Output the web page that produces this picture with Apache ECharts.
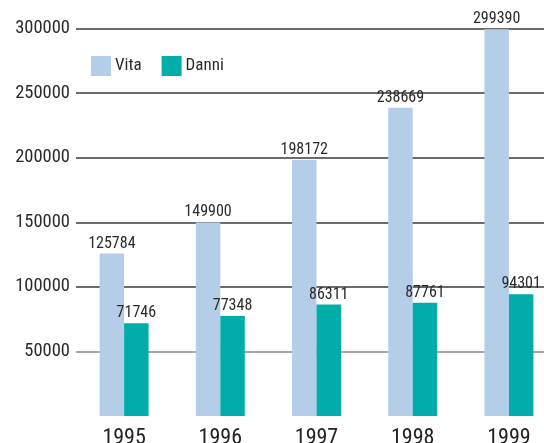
<!DOCTYPE html>
<html>
<head>
    <meta charset="UTF-8">
    <title>Vita / Danni 1995-1999</title>
    <script src="https://cdn.jsdelivr.net/npm/echarts@6/dist/echarts.min.js"></script>
    <style>
        html, body { margin: 0; padding: 0; background: #fff; }
        #chart { width: 544px; height: 443px; }
    </style>
</head>
<body>
<div id="chart"></div>
<script type="text/javascript">
    // dati del grafico
    var anni = ['1995', '1996', '1997', '1998', '1999'];
    var vita = [125784, 149900, 198172, 238669, 299390];
    var danni = [71746, 77348, 86311, 87761, 94301];
    var yTicks = [0, 300000, 50000]; // min, max, passo

    var font = "'Roboto Condensed', 'Liberation Sans Narrow', sans-serif";

    var myChart = echarts.init(document.getElementById('chart'));

    var option = {
        animation: false,
        color: ['#b4cee9', '#00ada9'],
        textStyle: { fontFamily: font },
        legend: {
            data: ['Vita', 'Danni'],
            left: 86,
            top: 51,
            itemWidth: 20,
            itemHeight: 20,
            itemGap: 20,
            icon: 'rect',
            textStyle: { fontFamily: font, fontSize: 17, color: '#2a2a2a', padding: [0, 0, 0, -1] }
        },
        grid: {
            left: 76,
            top: 28.5,
            width: 481,
            height: 387.5,
            outerBoundsMode: 'none',
            containLabel: false
        },
        xAxis: {
            type: 'category',
            data: anni,
            axisLine: { show: false },
            axisTick: { show: false },
            axisLabel: { fontFamily: font, fontSize: 22, color: '#222', margin: 11 }
        },
        yAxis: {
            type: 'value',
            min: yTicks[0],
            max: yTicks[1],
            interval: yTicks[2],
            axisLine: { show: false },
            axisTick: { show: false },
            axisLabel: {
                fontFamily: font, fontSize: 18.5, color: '#2a2a2a', margin: 6, showMinLabel: false,
                formatter: function (v) { return String(v); }
            },
            splitLine: {
                showMinLine: false,
                lineStyle: {
                    width: 1.5,
                    color: ['#8a8a8a', '#3a3a3a', '#3a3a3a', '#3a3a3a', '#3a3a3a', '#3a3a3a']
                }
            }
        },
        series: [
            {
                name: 'Vita',
                type: 'bar',
                barWidth: 24.5,
                barGap: 0,
                label: { show: true, position: 'top', distance: 2, fontFamily: font, fontSize: 16, color: '#2a2a2a' },
                data: vita
            },
            {
                name: 'Danni',
                type: 'bar',
                barWidth: 24.5,
                barGap: 0,
                label: { show: true, position: 'top', distance: 2, fontFamily: font, fontSize: 16, color: '#2a2a2a' },
                data: danni
            }
        ]
    };
    myChart.setOption(option);
</script>
</body>
</html>
